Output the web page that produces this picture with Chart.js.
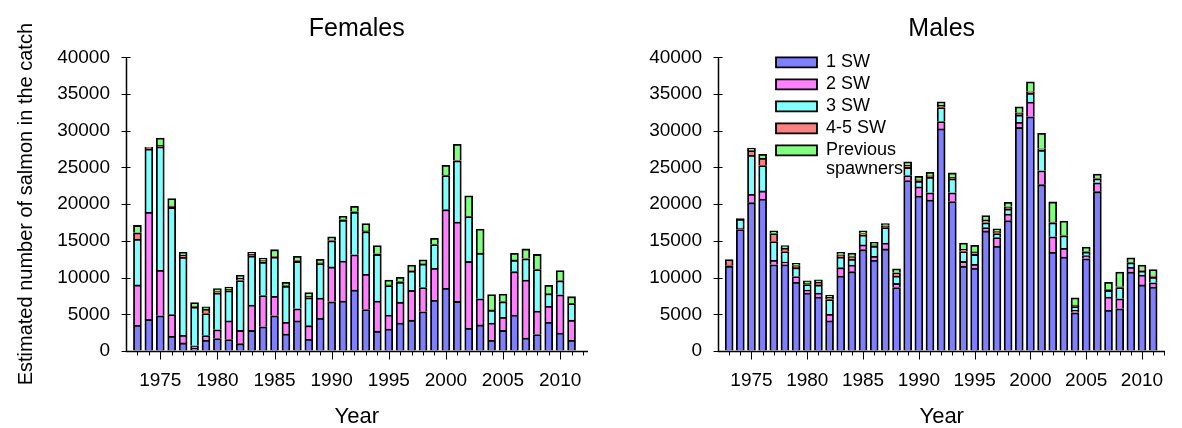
<!DOCTYPE html>
<html>
<head>
<meta charset="utf-8">
<script src="https://cdn.jsdelivr.net/npm/chart.js@4/dist/chart.umd.min.js"></script>
<style>
  body { margin: 0; background: #fff; }
  #wrap { position: relative; width: 1182px; height: 428px; }
  .panel { position: absolute; top: 0; height: 428px; }
</style>
</head>
<body>
<div id="wrap">
  <div class="panel" style="left:0;width:600px"><canvas id="females"></canvas></div>
  <div class="panel" style="left:600px;width:582px"><canvas id="males"></canvas></div>
</div>
<script>
// years on the x axis and the labelled ticks
const years = [1973, 1974, 1975, 1976, 1977, 1978, 1979, 1980, 1981, 1982,
  1983, 1984, 1985, 1986, 1987, 1988, 1989, 1990, 1991, 1992,
  1993, 1994, 1995, 1996, 1997, 1998, 1999, 2000, 2001, 2002,
  2003, 2004, 2005, 2006, 2007, 2008, 2009, 2010, 2011];
const yearTicks = [1975, 1980, 1985, 1990, 1995, 2000, 2005, 2010];
const seaAges = ['1 SW', '2 SW', '3 SW', '4-5 SW', 'Previous spawners'];

// females
const fem1SW = [3500, 4300, 4800, 2000, 1100, 400, 1450, 1700, 1550, 1000,
  2800, 3300, 4800, 2300, 4100, 1600, 4450, 6700, 6800, 8300,
  5650, 2700, 3000, 3800, 4200, 5350, 6900, 8550, 6750, 3100,
  3550, 1450, 2800, 4900, 1750, 2250, 3900, 2450, 1450];
const fem2SW = [5500, 14600, 6200, 2950, 1050, 300, 650, 1200, 2550, 1800,
  3450, 4250, 2650, 1600, 1650, 1850, 2750, 4750, 5450, 4800,
  4800, 4100, 1900, 2850, 4050, 3300, 4350, 10700, 10800, 9100,
  3550, 2350, 1800, 5900, 7900, 3200, 2200, 5200, 2750];
const fem3SW = [6200, 8600, 16800, 14600, 10600, 5300, 3000, 5000, 4100, 6800,
  6700, 4550, 5350, 4900, 6450, 3800, 4700, 3550, 5550, 5800,
  5800, 6350, 4000, 2700, 2650, 3200, 3250, 4650, 8350, 6100,
  6200, 1750, 2100, 1550, 2900, 5650, 1700, 1900, 2250];
const fem45SW = [900, 150, 200, 200, 300, 100, 600, 200, 200, 300,
  200, 200, 100, 100, 100, 200, 100, 100, 100, 100,
  100, 100, 100, 100, 100, 100, 50, 50, 50, 50,
  50, 50, 50, 50, 50, 50, 50, 50, 50];
const femPrev = [1000, 100, 1000, 1000, 400, 500, 300, 400, 300, 400,
  300, 350, 900, 450, 600, 500, 500, 450, 450, 700,
  1000, 1100, 650, 600, 700, 450, 800, 1350, 2200, 2800,
  3250, 2100, 1000, 900, 1300, 2000, 1100, 1350, 900];

// males
const male1SW = [11550, 16550, 20200, 20700, 11750, 11750, 9350, 7900, 7350, 4100,
  10200, 10800, 13800, 12350, 13900, 8650, 23200, 21100, 20550, 30250,
  20350, 11550, 11250, 16350, 14250, 17750, 30450, 31900, 22650, 13450,
  12800, 5200, 12550, 21700, 5550, 5750, 10750, 9000, 8700];
const male2SW = [100, 200, 1150, 1100, 600, 350, 800, 400, 550, 900,
  1150, 900, 650, 550, 800, 550, 700, 1250, 1000, 1000,
  1200, 650, 550, 450, 1200, 900, 700, 2000, 1900, 2100,
  1200, 350, 450, 1200, 1800, 1350, 650, 1350, 600];
const male3SW = [50, 1200, 5300, 3450, 2550, 1450, 1200, 750, 1100, 2000,
  1450, 800, 1350, 1350, 2100, 1000, 1100, 750, 2100, 1900,
  1900, 1350, 1350, 650, 550, 700, 1000, 1200, 2800, 1900,
  1700, 500, 450, 550, 900, 1550, 600, 550, 750];
const male45SW = [750, 100, 650, 1000, 1100, 450, 300, 200, 350, 300,
  300, 350, 200, 200, 250, 450, 300, 200, 200, 300,
  200, 300, 350, 400, 250, 300, 300, 200, 200, 100,
  100, 200, 100, 100, 100, 100, 50, 100, 150];
const malePrev = [0, 0, 350, 550, 350, 350, 300, 300, 350, 300,
  350, 500, 350, 350, 300, 550, 450, 500, 500, 500,
  600, 850, 900, 600, 400, 600, 800, 1350, 2100, 2750,
  1900, 1000, 600, 550, 1000, 2000, 650, 700, 900];

const colours = ['#8080ff', '#ff80ff', '#80ffff', '#ff8080', '#80ff80'];

Chart.defaults.font.family = "'Liberation Sans', Arial, sans-serif";
Chart.defaults.color = '#000';

// both axis lines, the year ticks and the y tick marks, drawn on top of the bars
const axisMarks = {
  id: 'axisMarks',
  afterDatasetsDraw(chart) {
    const ctx = chart.ctx, xs = chart.scales.x, ys = chart.scales.y;
    const a = chart.chartArea;
    const base = Math.round(ys.getPixelForValue(0)) + 0.5;
    const left = Math.round(a.left) + 0.5;
    ctx.save();
    ctx.strokeStyle = '#000';
    ctx.lineWidth = 1.5;
    ctx.beginPath();
    ctx.moveTo(left, Math.round(a.top));
    ctx.lineTo(left, base);
    ctx.lineTo(Math.round(a.right), base);
    ctx.stroke();
    ctx.lineWidth = 1;
    ctx.beginPath();
    for (let yr = Math.ceil(xs.min) + 1; yr <= xs.max; yr++) {
      const px = Math.round(xs.getPixelForValue(yr)) + 0.5;
      ctx.moveTo(px, base);
      ctx.lineTo(px, base + (yr % 5 === 0 ? 8 : 4));
    }
    ys.ticks.forEach(t => {
      const py = Math.round(ys.getPixelForValue(t.value)) + 0.5;
      ctx.moveTo(left - 5, py);
      ctx.lineTo(left + 4, py);
    });
    ctx.stroke();
    ctx.restore();
  }
};

// put the legend inside the plot, top left
const legendSpot = {
  id: 'legendSpot',
  afterLayout(chart) {
    const lg = chart.legend;
    if (!lg || !lg.options.display) return;
    const a = chart.chartArea;
    lg.left = a.left + 54;
    lg.top = a.top - 8;
    lg.right = chart.width;
    lg.bottom = a.bottom;
  }
};

function makeChart(id, title, series, yTitle, yWidth, xMax, padRight, showLegend)
{
  const datasets = series.map((data, i) => ({
    label: seaAges[i],
    data: data,
    backgroundColor: colours[i],
    borderColor: '#000',
    borderWidth: 1.8,
    barThickness: 8
  }));

  return new Chart(document.getElementById(id), {
    type: 'bar',
    data: { labels: years, datasets: datasets },
    options: {
      responsive: true,
      maintainAspectRatio: false,
      animation: false,
      layout: { padding: { left: 0, right: padRight, top: 0, bottom: 0 } },
      scales: {
        x: {
          type: 'linear',
          stacked: true,
          offset: false,
          bounds: 'data',
          min: 1972,
          max: xMax,
          afterBuildTicks: s => { s.ticks = yearTicks.map(v => ({ value: v })); },
          afterFit: s => { s.height = 77; },
          grid: { drawOnChartArea: false, drawTicks: false, offset: false, color: '#000' },
          border: { display: false },
          ticks: { font: { size: 19 }, padding: 18, maxRotation: 0, autoSkip: false,
                   callback: v => String(v) },
          title: { display: true, text: 'Year', font: { size: 22, lineHeight: 1 },
                   padding: { top: 0, bottom: 0 } }
        },
        y: {
          stacked: true,
          min: 0,
          max: 40000,
          afterFit: s => { s.width = yWidth; },
          grid: { drawOnChartArea: false, drawTicks: false, color: '#000' },
          border: { display: false },
          ticks: { stepSize: 5000, font: { size: 19 }, padding: 16,
                   callback: v => String(v) },
          title: { display: !!yTitle, text: yTitle, font: { size: 20 },
                   padding: { top: 14, bottom: 0 } }
        }
      },
      plugins: {
        title: {
          display: true,
          text: title,
          fullSize: false,
          font: { size: 25, weight: 'normal' },
          padding: { top: 14, bottom: 13.3 }
        },
        legend: {
          display: showLegend,
          position: 'chartArea',
          align: 'start',
          labels: {
            boxWidth: 41,
            boxHeight: 10,
            padding: 4,
            font: { size: 18, lineHeight: 1.05 },
            generateLabels(chart) {
              const items = Chart.defaults.plugins.legend.labels.generateLabels(chart);
              items.forEach(it => { if (it.text.indexOf('spawners') >= 0) it.text = it.text.split(' '); });
              return items;
            }
          }
        },
        tooltip: { enabled: false }
      }
    },
    plugins: [axisMarks, legendSpot]
  });
}

makeChart('females', 'Females', [fem1SW, fem2SW, fem3SW, fem45SW, femPrev],
  'Estimated number of salmon in the catch', 126, 2012.4, 8, false);
makeChart('males', 'Males', [male1SW, male2SW, male3SW, male45SW, malePrev],
  '', 118, 2012.1, 2, true);
</script>
</body>
</html>
